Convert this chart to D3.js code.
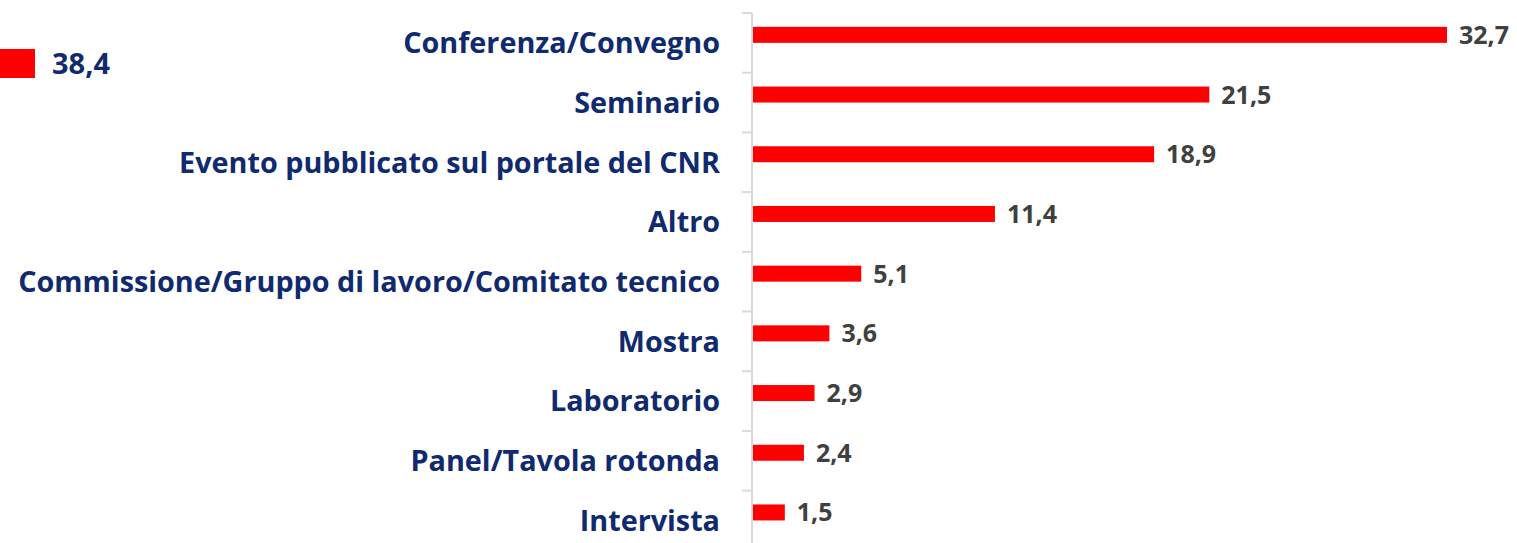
<!DOCTYPE html>
<html>
<head>
<meta charset="utf-8">
<script src="https://cdn.jsdelivr.net/npm/d3@7"></script>
<style>
  body { margin: 0; background: #fff; }
  svg { display: block; }
</style>
</head>
<body>
<svg id="chart" width="1517" height="543"></svg>
<script>
var categories = [
  "Conferenza/Convegno",
  "Seminario",
  "Evento pubblicato sul portale del CNR",
  "Altro",
  "Commissione/Gruppo di lavoro/Comitato tecnico",
  "Mostra",
  "Laboratorio",
  "Panel/Tavola rotonda",
  "Intervista"
];
var values = [32.7, 21.5, 18.9, 11.4, 5.1, 3.6, 2.9, 2.4, 1.5];
var legendValue = 38.4;

var svg = d3.select("#chart");
var font = "'Open Sans', 'Noto Sans', sans-serif";
var fmt = d3.formatLocale({decimal: ",", thousands: ".", grouping: [3], currency: ["", "€"]}).format(".1f");

var axisX = 752;
var y = d3.scaleBand().domain(categories).range([13, 13 + 9 * 59.7]);
// two slots per band like an Excel cluster, only the first one is used
var inner = d3.scaleBand().domain(["a", "b"]).range([0, y.bandwidth()]).paddingOuter(0.866);
var x = d3.scaleLinear().domain([0, 32.7]).range([axisX + 1, 1447]);

// axis
svg.append("line")
  .attr("x1", axisX).attr("x2", axisX)
  .attr("y1", y.range()[0]).attr("y2", 543)
  .attr("stroke", "#d9d9d9").attr("stroke-width", 2);

var tickYs = categories.map(function(c) { return y(c); });
svg.selectAll(".tick").data(tickYs).enter().append("line")
  .attr("x1", axisX - 10).attr("x2", axisX)
  .attr("y1", function(d) { return d; }).attr("y2", function(d) { return d; })
  .attr("stroke", "#d9d9d9").attr("stroke-width", 2);

// bars
svg.selectAll(".bar").data(values).enter().append("rect")
  .attr("x", x(0))
  .attr("y", function(d, i) { return y(categories[i]) + inner("a"); })
  .attr("width", function(d) { return x(d) - x(0); })
  .attr("height", inner.bandwidth())
  .attr("fill", "#ff0000");

// value labels
svg.selectAll(".val").data(values).enter().append("text")
  .attr("x", function(d) { return x(d) + 12; })
  .attr("y", function(d, i) { return y(categories[i]) + inner("a") + inner.bandwidth() / 2; })
  .attr("dy", "0.36em")
  .attr("font-family", font).attr("font-weight", "bold")
  .attr("font-size", 25)
  .attr("fill", "#404040")
  .text(function(d) { return fmt(d); });

// category labels, sized so the longest fits the same width as the original
var labels = svg.selectAll(".lab").data(categories).enter().append("text")
  .attr("x", 720)
  .attr("y", function(d) { return y(d) + y.bandwidth() / 2; })
  .attr("dy", "0.36em")
  .attr("text-anchor", "end")
  .attr("font-family", font).attr("font-weight", "bold")
  .attr("font-size", 100)
  .attr("fill", "#0f2a6e")
  .text(function(d) { return d; });
var widest = d3.max(labels.nodes(), function(n) { return n.getComputedTextLength(); });
labels.attr("font-size", 100 * 702 / widest);

// stray legend entry at top-left
svg.append("rect")
  .attr("x", 0).attr("y", 49).attr("width", 35).attr("height", 29)
  .attr("fill", "#ff0000");
svg.append("text")
  .attr("x", 52).attr("y", 64).attr("dy", "0.36em")
  .attr("font-family", font).attr("font-weight", "bold")
  .attr("font-size", 29)
  .attr("fill", "#0f2a6e")
  .text(fmt(legendValue));
</script>
</body>
</html>
